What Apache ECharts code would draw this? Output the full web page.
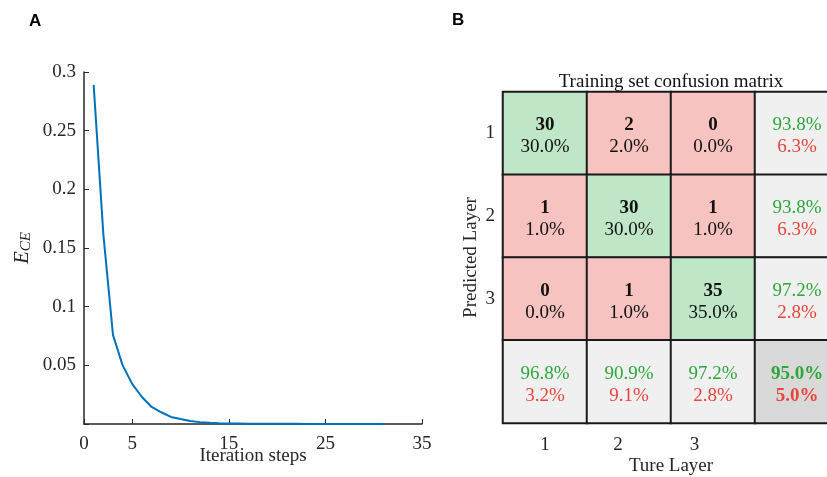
<!DOCTYPE html>
<html>
<head>
<meta charset="utf-8">
<title>Training</title>
<script src="https://cdn.jsdelivr.net/npm/echarts@6/dist/echarts.min.js"></script>
<style>
  html, body { margin: 0; padding: 0; background: #fff; }
  #main { width: 827px; height: 477px; }
</style>
</head>
<body>
<div id="main"></div>
<script type="text/javascript">
// loss curve
var steps = [1,2,3,4,5,6,7,8,9,10,11,12,13,14,15,16,17,18,19,20,21,22,23,24,25,26,27,28,29,30,31];
var lossCE = [0.289,0.162,0.076,0.050,0.034,0.023,0.0145,0.010,0.006,0.0042,0.0026,0.0016,0.0010,0.0007,0.0005,0.0004,0.0003,0.0003,0.0002,0.0002,0.0002,0.0002,0.0001,0.0001,0.0001,0.0001,0.0001,0.0001,0.0001,0.0001,0.0001];
var xTicks = [0,5,15,25,35];

// confusion matrix (rows = predicted, cols = true)
var layers = ['1','2','3'];
var counts = [[30,2,0],[1,30,1],[0,1,35]];
var cellPct = [['30.0%','2.0%','0.0%'],['1.0%','30.0%','1.0%'],['0.0%','1.0%','35.0%']];
var rowRight = ['93.8%','93.8%','97.2%'];
var rowWrong = ['6.3%','6.3%','2.8%'];
var colRight = ['96.8%','90.9%','97.2%'];
var colWrong = ['3.2%','9.1%','2.8%'];
var overall = ['95.0%','5.0%'];

var serif = 'Liberation Serif';
var ink = '#262626';
var green = '#bfe6c6', red = '#f6c3c0', grey = '#f0f0f0', dark = '#d9d9d9';

var cells = [];
for (var r = 0; r < 3; r++) {
  for (var c = 0; c < 3; c++) {
    cells.push({
      value: [c, r, counts[r][c]],
      itemStyle: { color: r == c ? green : red },
      label: { formatter: '{n|' + counts[r][c] + '}\n{p|' + cellPct[r][c] + '}' }
    });
  }
  cells.push({
    value: [3, r, 0],
    itemStyle: { color: grey },
    label: { formatter: '{g|' + rowRight[r] + '}\n{r|' + rowWrong[r] + '}' }
  });
}
for (var c = 0; c < 3; c++) {
  cells.push({
    value: [c, 3, 0],
    itemStyle: { color: grey },
    label: { formatter: '{g|' + colRight[c] + '}\n{r|' + colWrong[c] + '}' }
  });
}
cells.push({
  value: [3, 3, 0],
  itemStyle: { color: dark },
  label: { formatter: '{gb|' + overall[0] + '}\n{rb|' + overall[1] + '}' }
});

var lineData = [];
for (var i = 0; i < steps.length; i++) lineData.push([steps[i], lossCE[i]]);

// the x labels under the matrix are not centred on the columns
var xShift = ['{a|1}', '{b|2}', '{c|3}', ''];
var fs = 19;

var option = {
  animation: false,
  backgroundColor: '#fff',
  grid: [
    { left: 84, top: 72, width: 338, height: 352, outerBoundsMode: 'none' },
    // the last column runs past the right edge, as in the figure
    { left: 503, top: 92, width: 336, height: 331, outerBoundsMode: 'none' }
  ],
  xAxis: [
    {
      gridIndex: 0, type: 'value', min: 0, max: 35, interval: 5,
      name: 'Iteration steps', nameLocation: 'middle', nameGap: 23, nameMoveOverlap: false,
      nameTextStyle: { fontFamily: serif, fontSize: fs, color: ink },
      axisLine: { lineStyle: { color: ink, width: 1.5 } },
      axisTick: { inside: true, length: 5, customValues: xTicks, lineStyle: { color: ink } },
      axisLabel: { customValues: xTicks, margin: 11, fontFamily: serif, fontSize: fs, color: ink },
      splitLine: { show: false }
    },
    {
      gridIndex: 1, type: 'category', data: layers.concat(['']),
      name: 'Ture Layer', nameLocation: 'middle', nameGap: 34, nameMoveOverlap: false,
      nameTextStyle: { fontFamily: serif, fontSize: fs, color: ink },
      axisLine: { show: false }, axisTick: { show: false },
      axisLabel: {
        margin: 13, fontFamily: serif, fontSize: fs, color: ink,
        formatter: function (v, idx) { return xShift[idx]; },
        rich: {
          a: { fontFamily: serif, fontSize: fs, color: ink },
          b: { fontFamily: serif, fontSize: fs, color: ink, padding: [0, 22, 0, 0] },
          c: { fontFamily: serif, fontSize: fs, color: ink, padding: [0, 37, 0, 0] }
        }
      },
      splitArea: { show: false }
    }
  ],
  yAxis: [
    {
      gridIndex: 0, type: 'value', min: 0, max: 0.3, interval: 0.05,
      name: '{e|E}{s|CE}', nameLocation: 'middle', nameGap: 50, nameRotate: 90,
      nameTextStyle: {
        rich: {
          e: { fontFamily: serif, fontStyle: 'italic', fontSize: 21, color: ink, lineHeight: 22, verticalAlign: 'top' },
          s: { fontFamily: serif, fontStyle: 'italic', fontSize: 15, color: ink, lineHeight: 22, verticalAlign: 'bottom', padding: [11, 0, 0, 0] }
        }
      },
      axisLine: { show: true, lineStyle: { color: ink, width: 1.5 } },
      axisTick: { show: true, inside: true, length: 5, lineStyle: { color: ink } },
      axisLabel: {
        margin: 8, fontFamily: serif, fontSize: fs, color: ink,
        formatter: function (v) { return v === 0 ? '' : String(+v.toFixed(2)); }
      },
      splitLine: { show: false }
    },
    {
      gridIndex: 1, type: 'category', data: layers.concat(['']), inverse: true,
      name: 'Predicted Layer', nameLocation: 'middle', nameGap: 22, nameRotate: 90,
      nameTextStyle: { fontFamily: serif, fontSize: fs, color: ink },
      axisLine: { show: false }, axisTick: { show: false },
      axisLabel: { margin: 8, fontFamily: serif, fontSize: fs, color: ink },
      splitArea: { show: false }
    }
  ],
  series: [
    {
      type: 'line', xAxisIndex: 0, yAxisIndex: 0, data: lineData,
      showSymbol: false, lineStyle: { color: '#0072bd', width: 2 }
    },
    {
      type: 'heatmap', xAxisIndex: 1, yAxisIndex: 1, data: cells,
      itemStyle: { borderColor: '#1a1a1a', borderWidth: 2 },
      emphasis: { disabled: true },
      label: {
        show: true, lineHeight: 22, offset: [0, 3],
        rich: {
          n: { fontFamily: serif, fontSize: fs, fontWeight: 'bold', color: '#111', lineHeight: 22 },
          p: { fontFamily: serif, fontSize: fs, color: '#111', lineHeight: 22 },
          g: { fontFamily: serif, fontSize: fs, color: '#2ca83a', lineHeight: 22 },
          r: { fontFamily: serif, fontSize: fs, color: '#e8443c', lineHeight: 22 },
          gb: { fontFamily: serif, fontSize: fs, fontWeight: 'bold', color: '#2ca83a', lineHeight: 22 },
          rb: { fontFamily: serif, fontSize: fs, fontWeight: 'bold', color: '#e8443c', lineHeight: 22 }
        }
      }
    }
  ],
  graphic: [
    { type: 'text', left: 29, top: 13, style: { text: 'A', font: 'bold 17px "Liberation Sans"', fill: '#000' } },
    { type: 'text', left: 452, top: 12, style: { text: 'B', font: 'bold 17px "Liberation Sans"', fill: '#000' } },
    { type: 'text', x: 671, y: 82, style: { text: 'Training set confusion matrix', font: '19px "Liberation Serif"', fill: '#111', align: 'center', verticalAlign: 'middle' } }
  ]
};

var chart = echarts.init(document.getElementById('main'));
chart.setOption(option);
</script>
</body>
</html>
